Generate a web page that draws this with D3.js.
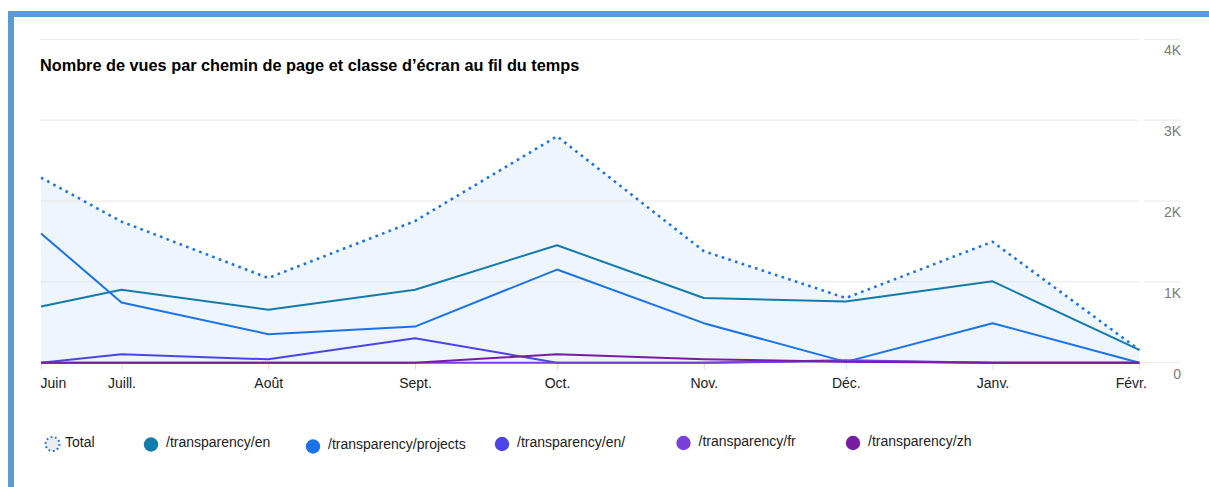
<!DOCTYPE html>
<html>
<head>
<meta charset="utf-8">
<script src="https://cdn.jsdelivr.net/npm/d3@7"></script>
<style>
  html, body { margin: 0; padding: 0; background: #fff; }
  svg { display: block; font-family: "Liberation Sans", Arial, sans-serif; }
</style>
</head>
<body>
<svg id="chart" width="1209" height="487"></svg>
<script>
// ---- data ----
const title = "Nombre de vues par chemin de page et classe d\u2019écran au fil du temps";
const monthLabels = ["Juin", "Juill.", "Août", "Sept.", "Oct.", "Nov.", "Déc.", "Janv.", "Févr."];
const dates = ["2023-06-14", "2023-07-01", "2023-08-01", "2023-09-01", "2023-10-01", "2023-11-01", "2023-12-01", "2024-01-01", "2024-02-01"];
const seriesNames = ["Total", "/transparency/en", "/transparency/projects", "/transparency/en/", "/transparency/fr", "/transparency/zh"];
const totalValues    = [2290, 1745, 1048, 1752, 2800, 1380, 800, 1496, 158];
const enValues       = [696, 903, 655, 903, 1453, 800, 758, 1006, 158];
const projectsValues = [1599, 745, 353, 447, 1152, 489, 10, 489, 0];
const enSlashValues  = [0, 104, 42, 303, 0, 0, 20, 0, 0];
const frValues       = [0, 0, 0, 0, 0, 0, 30, 0, 0];
const zhValues       = [0, 0, 0, 0, 104, 42, 12, 0, 0];
const yTicks = [0, 1000, 2000, 3000, 4000];
const yTickLabels = ["0", "1K", "2K", "3K", "4K"];

// ---- setup ----
const svg = d3.select("#chart");
const parse = d3.utcParse("%Y-%m-%d");
const xDates = dates.map(parse);

const x = d3.scaleUtc().domain([xDates[0], xDates[xDates.length - 1]]).range([41, 1139.3]);
const y = d3.scaleLinear().domain([0, 4000]).range([362.7, 39.3]);

// frame
svg.append("rect").attr("x", 8).attr("y", 11).attr("width", 1201).attr("height", 6).attr("fill", "#5b9bd5");
svg.append("rect").attr("x", 8).attr("y", 11).attr("width", 6).attr("height", 476).attr("fill", "#5b9bd5");

// area under total
const pts = xDates.map((d, i) => ({ d, i }));
const area = d3.area().x(p => x(p.d)).y0(y(0)).y1(p => y(totalValues[p.i]));
svg.append("path").datum(pts).attr("d", area).attr("fill", "#eef5fd");

// gridlines
const grid = svg.append("g");
yTicks.forEach(t => {
  grid.append("line").attr("x1", 40).attr("x2", 1139).attr("y1", y(t)).attr("y2", y(t))
    .attr("stroke", "#e6e7e9").attr("stroke-width", 1);
  grid.append("line").attr("x1", 1144).attr("x2", 1180).attr("y1", y(t)).attr("y2", y(t))
    .attr("stroke", "#e6e7e9").attr("stroke-width", 1);
});

// y labels (right)
const yAxis = d3.axisRight(y).tickValues(yTicks).tickFormat((d, i) => yTickLabels[i]).tickSize(0).tickPadding(0);
const yg = svg.append("g").attr("transform", "translate(1181,0)").call(yAxis);
yg.select(".domain").remove();
yg.selectAll("text")
  .attr("text-anchor", "end").attr("x", 0).attr("y", 0)
  .attr("dy", "15.5px")
  .style("font-size", "14px").style("font-family", "'Liberation Sans', Arial, sans-serif")
  .attr("fill", "#7a7a7a");

// x axis
const xAxis = d3.axisBottom(x).tickValues(xDates).tickFormat((d, i) => monthLabels[i]).tickSize(7).tickPadding(0);
const xg = svg.append("g").attr("transform", `translate(0,${y(0)})`).call(xAxis);
xg.select(".domain").remove();
xg.selectAll(".tick line").attr("stroke", "#dadce0");
xg.selectAll("text")
  .attr("y", 25.5).attr("dy", null)
  .style("font-size", "14px").style("font-family", "'Liberation Sans', Arial, sans-serif")
  .attr("fill", "#202124");
xg.selectAll(".tick text").filter((d, i) => i === 0).attr("text-anchor", "start").attr("x", -1);
xg.selectAll(".tick text").filter((d, i) => i === xDates.length - 1).attr("text-anchor", "end").attr("x", 7);

// lines
const colors = ["#1a73e8", "#137cad", "#1a73e8", "#4b44e6", "#7b3fdc", "#7a1ca3"];
const allValues = [totalValues, enValues, projectsValues, enSlashValues, frValues, zhValues];
const line = vals => d3.line().x(p => x(p.d)).y(p => y(vals[p.i]));
allValues.forEach((vals, k) => {
  const p = svg.append("path").datum(pts).attr("d", line(vals))
    .attr("fill", "none").attr("stroke", colors[k]).attr("stroke-width", 2)
    .attr("stroke-linejoin", "round");
  if (k === 0) {
    p.attr("stroke-width", 2.6).attr("stroke-dasharray", "2.6,4.4");
  }
});

// title (fit to the reference width of ~540px)
const titleText = svg.append("text").attr("x", 40).attr("y", 70.5)
  .attr("font-size", "14px").attr("font-weight", "bold").attr("fill", "#000")
  .text(title);
const tw = titleText.node().getComputedTextLength();
if (tw > 0) titleText.attr("font-size", (14 * 540 / tw).toFixed(2) + "px");

// legend
const legendX = [52.5, 151, 313, 502, 683.5, 853];
const legendY = [444, 444.5, 446.5, 444, 443, 443];
const lg = svg.append("g");
seriesNames.forEach((name, k) => {
  const cx = legendX[k], cy = legendY[k];
  if (k === 0) {
    lg.append("circle").attr("cx", cx).attr("cy", cy).attr("r", 7)
      .attr("fill", "#ececec").attr("stroke", "#1a73e8").attr("stroke-width", 2)
      .attr("stroke-dasharray", "1.8,2.6");
  } else {
    lg.append("circle").attr("cx", cx).attr("cy", cy).attr("r", 7.2).attr("fill", colors[k]);
  }
  lg.append("text").attr("x", cx + (k === 0 ? 12.5 : 15)).attr("y", k === 0 ? 446.5 : cy + 2.5)
    .attr("font-size", "14px").attr("fill", "#202124").text(name);
});
</script>
</body>
</html>
